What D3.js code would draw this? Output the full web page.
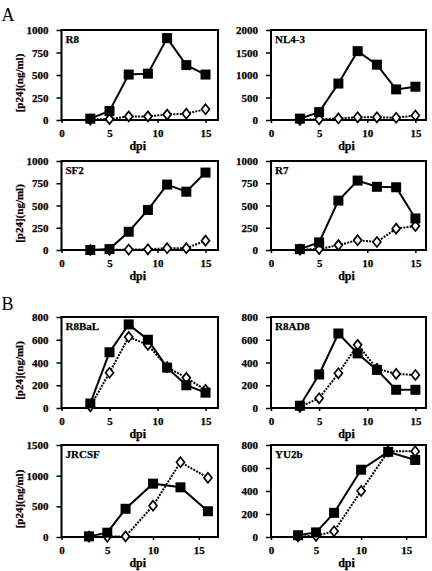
<!DOCTYPE html>
<html>
<head>
<meta charset="utf-8">
<script src="https://cdn.jsdelivr.net/npm/d3@7"></script>
<style>
  html, body { margin: 0; padding: 0; background: #fff; }
  svg { display: block; }
  text { font-family: "Liberation Serif", "Times New Roman", serif; }
</style>
</head>
<body>
<script>
// ---------------- DATA ----------------
const panelNames = ["R8", "NL4-3", "SF2", "R7", "R8BaL", "R8AD8", "JRCSF", "YU2b"];
const daysStd = [3, 5, 7, 9, 11, 13, 15];
const daysLast = [3, 5, 7, 10, 13, 16];
const xTickValues = [0, 5, 10, 15];

// filled squares (solid line) and open diamonds (dotted line), p24 ng/ml
const filledR8 = [15, 100, 505, 515, 910, 610, 505];
const openR8 = [5, 10, 40, 40, 60, 70, 120];
const filledNL43 = [30, 175, 810, 1530, 1230, 680, 740];
const openNL43 = [5, 15, 35, 60, 60, 50, 100];
const filledSF2 = [0, 10, 205, 450, 735, 655, 870];
const openSF2 = [0, 2, 5, 8, 20, 20, 105];
const filledR7 = [10, 85, 555, 780, 710, 705, 355];
const openR7 = [5, 10, 55, 110, 90, 240, 270];
const filledR8BaL = [40, 490, 735, 600, 355, 200, 135];
const openR8BaL = [15, 310, 625, 555, 360, 265, 160];
const filledR8AD8 = [20, 295, 655, 480, 335, 160, 160];
const openR8AD8 = [10, 85, 305, 555, 345, 300, 290];
const filledJRCSF = [10, 70, 460, 870, 810, 420];
const openJRCSF = [5, 5, 10, 510, 1220, 965];
const filledYU2b = [15, 40, 210, 585, 740, 670];
const openYU2b = [5, 10, 50, 400, 745, 745];

const yTicks1000 = [0, 250, 500, 750, 1000];
const yTicks2000 = [0, 500, 1000, 1500, 2000];
const yTicks800 = [0, 200, 400, 600, 800];
const yTicks1500 = [0, 500, 1000, 1500];

const yTitle = "[p24](ng/ml)";
const xTitle = "dpi";
const sectionLetters = ["A", "B"];

// ---------------- LAYOUT ----------------
const W = 432, H = 571;
const colX = [[61.5, 218], [271, 426]];
const rowY = [[30, 120], [161, 250], [317, 408], [445, 537]];

const panels = [
  { name: panelNames[0], days: daysStd, filled: filledR8, open: openR8, ticks: yTicks1000, xMax: 16.3, r: 0, c: 0 },
  { name: panelNames[1], days: daysStd, filled: filledNL43, open: openNL43, ticks: yTicks2000, xMax: 16.1, r: 0, c: 1 },
  { name: panelNames[2], days: daysStd, filled: filledSF2, open: openSF2, ticks: yTicks1000, xMax: 16.3, r: 1, c: 0 },
  { name: panelNames[3], days: daysStd, filled: filledR7, open: openR7, ticks: yTicks1000, xMax: 16.1, r: 1, c: 1 },
  { name: panelNames[4], days: daysStd, filled: filledR8BaL, open: openR8BaL, ticks: yTicks800, xMax: 16.3, r: 2, c: 0 },
  { name: panelNames[5], days: daysStd, filled: filledR8AD8, open: openR8AD8, ticks: yTicks800, xMax: 16.1, r: 2, c: 1 },
  { name: panelNames[6], days: daysLast, filled: filledJRCSF, open: openJRCSF, ticks: yTicks1500, xMax: 17.1, r: 3, c: 0 },
  { name: panelNames[7], days: daysLast, filled: filledYU2b, open: openYU2b, ticks: yTicks800, xMax: 17.2, r: 3, c: 1 }
];

const svg = d3.select("body").append("svg")
  .attr("width", W).attr("height", H)
  .attr("viewBox", `0 0 ${W} ${H}`);

svg.append("text").attr("x", 1.5).attr("y", 20.5)
  .attr("font-size", 18).text(sectionLetters[0]);
svg.append("text").attr("x", 1.5).attr("y", 309.5)
  .attr("font-size", 18).text(sectionLetters[1]);

const squareSize = 10;
const diamondPath = "M0,-5L4,0L0,5L-4,0Z";
const boldText = sel => sel
  .attr("font-family", "Liberation Serif, serif")
  .attr("font-weight", "bold")
  .attr("fill", "#000")
  .attr("stroke", "#000")
  .attr("stroke-width", 0.25);

panels.forEach(p => {
  const [x0, x1] = colX[p.c];
  const [yt, yb] = rowY[p.r];
  const yMax = p.ticks[p.ticks.length - 1];
  const x = d3.scaleLinear().domain([0, p.xMax]).range([x0, x1]);
  const y = d3.scaleLinear().domain([0, yMax]).range([yb, yt]);

  const g = svg.append("g");

  // y axis
  const ya = g.append("g").attr("transform", `translate(${x0},0)`)
    .call(d3.axisLeft(y).tickValues(p.ticks).tickFormat(d3.format("d"))
      .tickSize(5).tickPadding(8).tickSizeOuter(0));
  // x axis
  const xa = g.append("g").attr("transform", `translate(0,${yb})`)
    .call(d3.axisBottom(x).tickValues(xTickValues).tickFormat(d3.format("d"))
      .tickSize(3).tickPadding(6).tickSizeOuter(0));

  [ya, xa].forEach(a => {
    a.select(".domain").remove();
    a.selectAll(".tick line").attr("stroke", "#000").attr("stroke-width", 1.5);
    a.selectAll(".tick text").call(boldText).attr("font-size", 11);
  });

  // frame
  g.append("rect")
    .attr("x", x0).attr("y", yt)
    .attr("width", x1 - x0).attr("height", yb - yt)
    .attr("fill", "none").attr("stroke", "#000").attr("stroke-width", 2);

  // panel name
  g.append("text").attr("x", x0 + 4).attr("y", yt + 12.5)
    .call(boldText).attr("font-size", 11).text(p.name);

  // x title
  g.append("text").attr("x", (x0 + x1) / 2 - 2).attr("y", yb + 30)
    .attr("text-anchor", "middle")
    .call(boldText).attr("font-size", 12).text(xTitle);

  // y title (left column only)
  if (p.c === 0) {
    const cy = (yt + yb) / 2 + 8;
    g.append("text")
      .attr("transform", `translate(22.5,${cy}) rotate(-90)`)
      .attr("text-anchor", "middle")
      .call(boldText).attr("font-size", 11).text(yTitle);
  }

  const openPts = p.days.map((d, i) => [d, p.open[i]]);
  const filledPts = p.days.map((d, i) => [d, p.filled[i]]);
  const line = d3.line().x(d => x(d[0])).y(d => y(d[1]));

  // open series (dotted)
  g.append("path").datum(openPts)
    .attr("d", line).attr("fill", "none")
    .attr("stroke", "#000").attr("stroke-width", 2)
    .attr("stroke-dasharray", "2,1.2");
  g.selectAll(".dia").data(openPts).enter().append("path")
    .attr("d", diamondPath)
    .attr("transform", d => `translate(${x(d[0])},${y(d[1])})`)
    .attr("fill", "#fff").attr("stroke", "#000").attr("stroke-width", 1.7);

  // filled series (solid)
  g.append("path").datum(filledPts)
    .attr("d", line).attr("fill", "none")
    .attr("stroke", "#000").attr("stroke-width", 2);
  g.selectAll(".sq").data(filledPts).enter().append("rect")
    .attr("x", d => x(d[0]) - squareSize / 2)
    .attr("y", d => y(d[1]) - squareSize / 2)
    .attr("width", squareSize).attr("height", squareSize)
    .attr("fill", "#000");
});
</script>
</body>
</html>
